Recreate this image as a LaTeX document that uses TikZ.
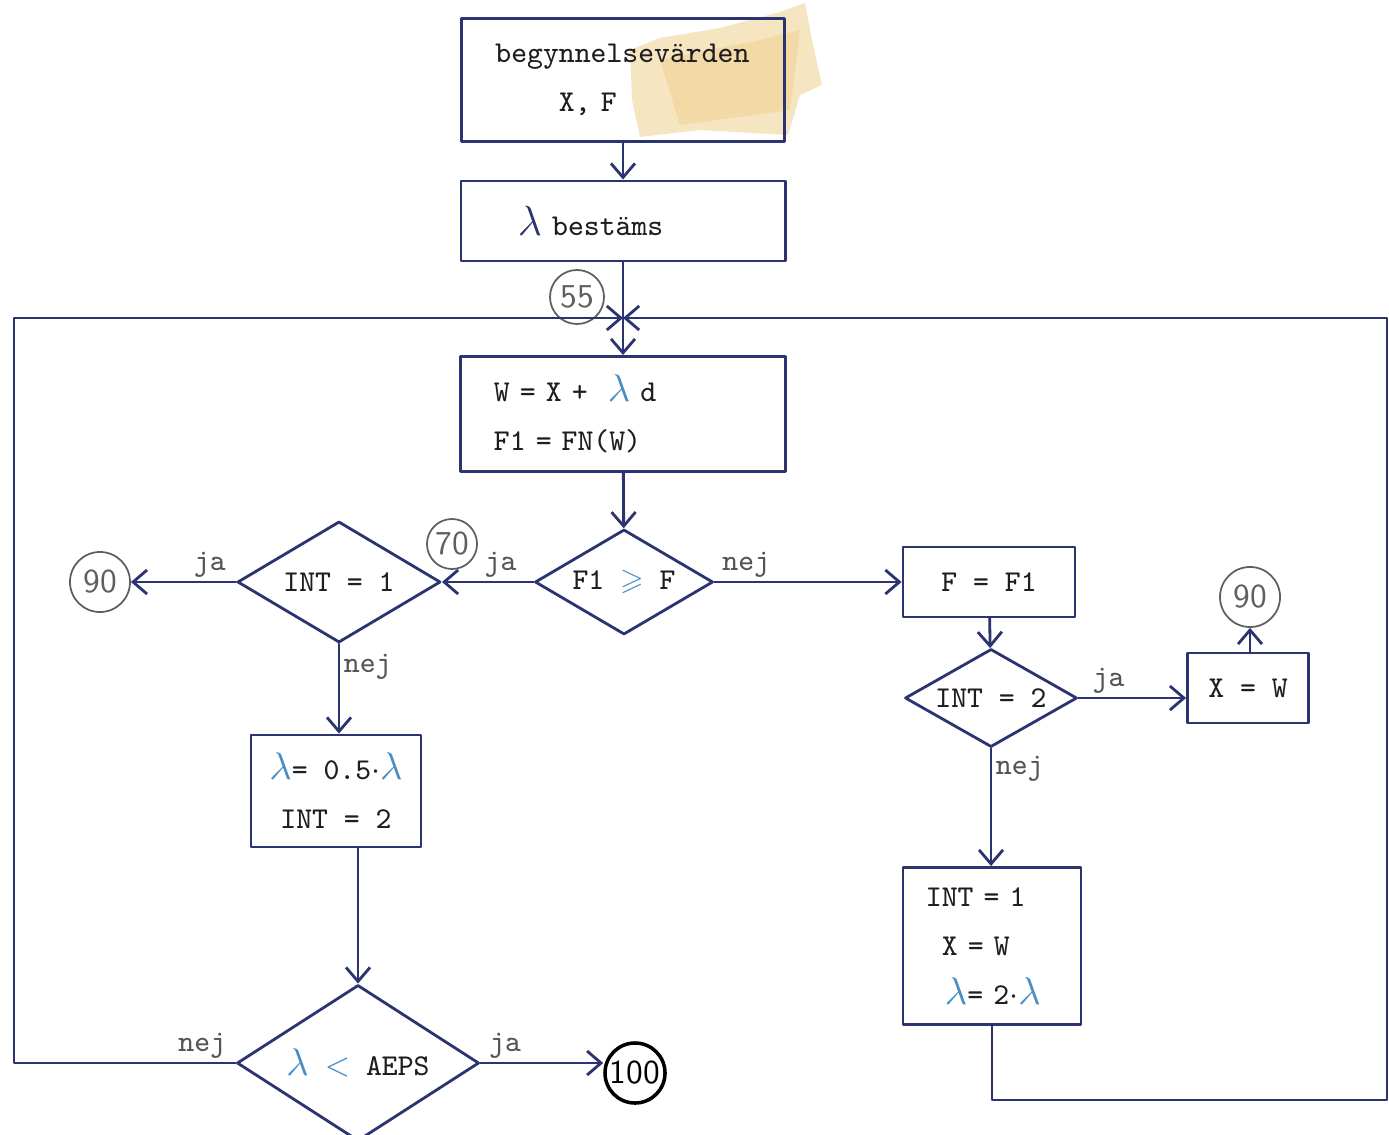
\documentclass[tikz,border=0pt]{standalone}
\usepackage{amssymb}
\usetikzlibrary{shapes.geometric,arrows.meta}
\definecolor{ink}{RGB}{43,52,112}
\definecolor{lamblue}{RGB}{72,142,196}
\definecolor{txt}{RGB}{30,30,34}
\definecolor{labgray}{RGB}{85,85,85}
\definecolor{numgray}{RGB}{95,95,95}
\definecolor{stain}{RGB}{232,190,100}
\newcommand{\blam}{{\color{lamblue}\fontsize{11}{11}\selectfont$\lambda$}}
\begin{document}
\begin{tikzpicture}[x=0.01cm, y=-0.01cm, line join=round, line cap=round,
	>={Straight Barb[length=1.4mm,width=2.4mm]},
	font=\ttfamily\fontsize{8.6}{14}\selectfont,
	box/.style={draw=ink, line width=0.8pt, rectangle, inner sep=0pt, text=txt},
	dia/.style={draw=ink, line width=0.8pt, diamond, aspect=1.75, inner sep=0pt, text=txt},
	num/.style={circle, draw=numgray, line width=0.5pt, text=numgray, inner sep=0pt, font=\sffamily\fontsize{9.5}{10}\selectfont},
	lab/.style={text=labgray, inner sep=1pt},
	flow/.style={draw=ink, line width=0.8pt}]
	\useasboundingbox (0,0) rectangle (1389,1134);
	% fleck on the paper
	\fill[stain, opacity=.4] (630,50)--(660,38)--(720,28)--(780,12)--(805,3)--(812,40)--(822,85)--(800,95)--(788,135)--(700,130)--(640,137)--(632,100)--cycle;
	\fill[stain, opacity=.3] (660,60)--(760,40)--(800,30)--(790,110)--(680,125)--cycle;
	% boxes
	\node[box, minimum width=3.23cm, minimum height=1.23cm, text width=2.55cm, align=left] (start) at (623,80) {begynnelsevärden\\\phantom{xxxx}X, F};
	\node[box, minimum width=3.24cm, minimum height=0.8cm, text width=2.1cm, align=left] (best) at (623,221) {{\color{ink}\fontsize{12}{12}\selectfont$\lambda$}\ bestäms};
	\coordinate (j55) at (623,318);
	\node[num, minimum size=0.54cm] (n55) at (577,297) {55};
	\node[box, minimum width=3.25cm, minimum height=1.15cm, text width=2.58cm, align=left] (calc) at (623,414) {W = X +\ \ \blam\ d\\F1 = FN(W)};
	\node[dia, minimum width=1.78cm, minimum height=1.05cm] (cmp) at (624,582) {F1 {\color{lamblue}$\geqslant$} F};
	\node[dia, minimum width=2.03cm, minimum height=1.21cm] (int1) at (339,582) {INT = 1};
	\node[num, minimum size=0.6cm] (n90a) at (100,582) {90};
	\node[num, minimum size=0.5cm] (n70) at (452,544) {70};
	\node[box, minimum width=1.7cm, minimum height=1.12cm, align=center] (half) at (336,791) {\blam= 0.5$\cdot$\blam\\INT = 2};
	\node[dia, minimum width=2.42cm, minimum height=1.56cm] (aeps) at (358,1063) {\blam\ {\color{lamblue}$<$}\ AEPS};
	\node[num, draw=black, text=black, line width=1pt, minimum size=0.6cm] (n100) at (635,1073) {100};
	\node[box, minimum width=1.72cm, minimum height=0.7cm] (upd) at (989,582) {F = F1};
	\node[dia, minimum width=1.72cm, minimum height=0.98cm] (int2) at (991,698) {INT = 2};
	\node[box, minimum width=1.21cm, minimum height=0.7cm] (xw) at (1248,688) {X = W};
	\node[num, minimum size=0.6cm] (n90b) at (1250,597) {90};
	\node[box, minimum width=1.78cm, minimum height=1.57cm, text width=1.32cm, align=left] (dbl) at (992,946) {INT = 1\\\hspace*{0.16cm}X = W\\\hspace*{0.19cm}\blam= 2$\cdot$\blam};
	% connectors
	\draw[flow,->] (start) -- (best);
	\draw[flow,->] (best) -- (calc);
	\draw[flow,->] (calc) -- (cmp);
	\draw[flow,->] (cmp.west) -- (int1.east) node[lab, pos=0.36, above]{ja};
	\draw[flow,->] (cmp.east) -- (upd.west) node[lab, pos=0.17, above]{nej};
	\draw[flow,->] (int1.west) -- (int1.west -| n90a.east) node[lab, pos=0.25, above]{ja};
	\draw[flow,->] (int1.south) -- (int1.south |- half.north) node[lab, pos=0.25, right]{nej};
	\draw[flow,->] (aeps.north |- half.south) -- (aeps.north);
	\draw[flow,->] (aeps.east) -- (aeps.east -| n100.west) node[lab, pos=0.2, above]{ja};
	\draw[flow,->] (upd) -- (int2);
	\draw[flow,->] (int2.east) -- (int2.east -| xw.west) node[lab, pos=0.28, above]{ja};
	\draw[flow,->] (n90b |- xw.north) -- (n90b.south);
	\draw[flow,->] (int2.south) -- (int2.south |- dbl.north) node[lab, pos=0.17, right]{nej};
	% loops back to 55
	\draw[flow,->] (aeps.west) -- node[lab, pos=0.15, above]{nej} (14,1063) |- (j55);
	\draw[flow,->] (dbl.south) |- (1387,1100) |- (j55);
\end{tikzpicture}
\end{document}
